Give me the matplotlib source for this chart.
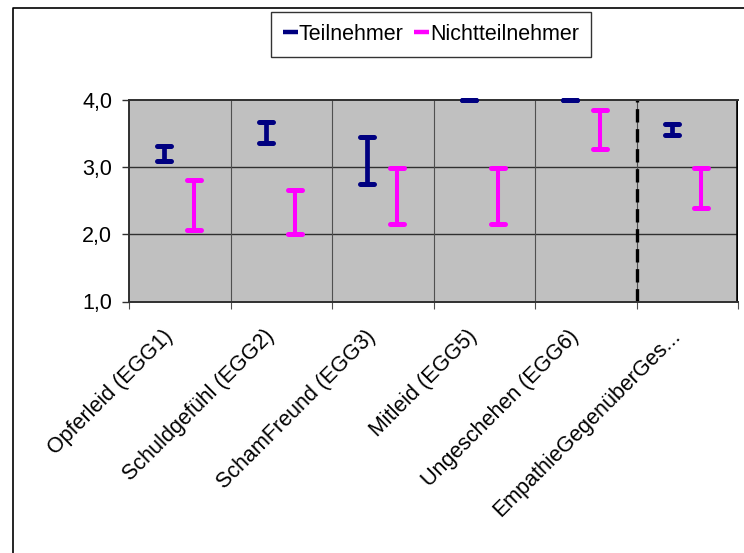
import matplotlib.pyplot as plt
from matplotlib.lines import Line2D

plt.rcParams['font.family'] = ['Liberation Sans', 'DejaVu Sans']

categories = ['Opferleid (EGG1)', 'Schuldgefühl (EGG2)', 'SchamFreund (EGG3)',
              'Mitleid (EGG5)', 'Ungeschehen (EGG6)', 'EmpathieGegenüberGes...']
teil_low = [3.09, 3.36, 2.75, 4.0, 4.0, 3.48]
teil_high = [3.31, 3.67, 3.45, 4.0, 4.0, 3.64]
nicht_low = [2.06, 2.00, 2.15, 2.15, 3.27, 2.39]
nicht_high = [2.81, 2.66, 2.99, 2.99, 3.85, 2.99]
yticks = [1.0, 2.0, 3.0, 4.0]
ytick_labels = ['1,0', '2,0', '3,0', '4,0']

navy = '#000080'
pink = '#FF00FF'
fs = 15.5

fig = plt.figure(figsize=(7.44, 5.53), dpi=100)
ax = fig.add_axes([129 / 744, 1 - 301.5 / 553, 609 / 744, 201.5 / 553])
ax.set_facecolor('#C0C0C0')
ax.set_xlim(0, 6)
ax.set_ylim(1, 4)

# outer chart frame (left and top edge only)
fig.add_artist(Line2D([13 / 744, 13 / 744, 1.0], [0.0, 1 - 8 / 553, 1 - 8 / 553],
                      transform=fig.transFigure, color='black', lw=1.2))

# grid
for y in [2.0, 3.0]:
    ax.axhline(y, color='#303030', lw=1.0, zorder=1)
for x in range(1, 6):
    ax.axvline(x, color='#505050', lw=0.8, zorder=1)
ax.axvline(5, color='black', lw=2.4, ls=(0, (4, 2)), zorder=2)
ax.axvline(6, color='black', lw=2.6, zorder=2)

# high-low bars
def hilo(xs, lo, hi, color, stem_lw):
    s = ax.vlines(xs, lo, hi, color=color, lw=stem_lw, zorder=4, clip_on=False)
    s.set_capstyle('butt')
    for v in (lo, hi):
        c = ax.hlines(v, [x - 0.069 for x in xs], [x + 0.069 for x in xs],
                      color=color, lw=3.6, zorder=5, clip_on=False)
        c.set_capstyle('round')

xs_t = [i + 0.5 - 0.155 for i in range(len(categories))]
xs_n = [i + 0.5 + 0.14 for i in range(len(categories))]
hilo(xs_t, teil_low, teil_high, navy, 3.4)
hilo(xs_n, nicht_low, nicht_high, pink, 2.9)

# axes styling
for side in ['top', 'bottom', 'left']:
    ax.spines[side].set_color('#303030')
    ax.spines[side].set_linewidth(1.4)
ax.spines['right'].set_visible(False)

ax.set_yticks(yticks)
ax.set_yticklabels(ytick_labels, fontsize=fs)
ax.tick_params(axis='y', length=5, width=1, color='#303030', pad=7)

ax.set_xticks(range(7))
ax.set_xticklabels([])
ax.tick_params(axis='x', length=5, width=0.8, color='#505050')
ax.set_xticks([i + 0.4 for i in range(len(categories))], minor=True)
ax.set_xticklabels(categories, minor=True, rotation=45, ha='right', va='center',
                   rotation_mode='anchor', fontsize=fs)
ax.tick_params(axis='x', which='minor', length=0, pad=23)

handles = [Line2D([], [], color=navy, lw=3.2, solid_capstyle='butt'),
           Line2D([], [], color=pink, lw=3.2, solid_capstyle='butt')]
leg = fig.legend(handles, ['Teilnehmer', 'Nichtteilnehmer'], loc='center',
                 bbox_to_anchor=(431 / 744, 1 - 34.5 / 553), ncol=2, fontsize=fs,
                 frameon=True, fancybox=False, handlelength=0.7, handletextpad=0.05,
                 columnspacing=0.5, borderpad=0.55, borderaxespad=0)
leg.get_frame().set_edgecolor('black')
leg.get_frame().set_linewidth(1.0)

fig.savefig('out.png', dpi=100)
